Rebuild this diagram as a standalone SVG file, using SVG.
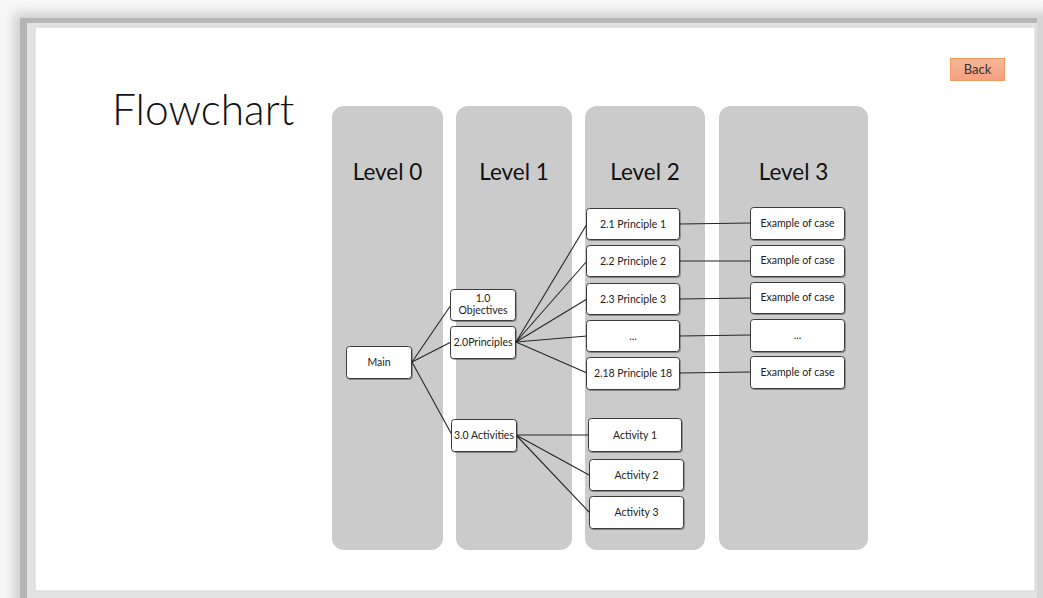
<svg xmlns="http://www.w3.org/2000/svg" width="1043" height="598" viewBox="0 0 1043 598">
  <defs>
    <filter id="soft" x="-5%" y="-5%" width="110%" height="110%">
      <feGaussianBlur stdDeviation="6"/>
    </filter>
    <filter id="boxShadow" x="-10%" y="-10%" width="130%" height="140%">
      <feDropShadow dx="0.8" dy="1" stdDeviation="0.6" flood-color="#000" flood-opacity="0.35"/>
    </filter>
    <linearGradient id="backFill" x1="0" y1="0" x2="0" y2="1">
      <stop offset="0" stop-color="#f7b79a"/>
      <stop offset="1" stop-color="#f5a07f"/>
    </linearGradient>
    <style>
      .lane { fill: #cbcbcb; }
      .lane-title { font-family: Lato, "Liberation Sans", sans-serif; font-size: 22.5px; fill: #111; text-anchor: middle; }
      .box { fill: #ffffff; stroke: #3a3a3a; stroke-width: 1; filter: url(#boxShadow); }
      .label { font-family: Lato, "Liberation Sans", sans-serif; font-size: 10.5px; fill: #222; text-anchor: middle; }
      .link { stroke: #262626; stroke-width: 1.1; fill: none; }
    </style>
  </defs>

  <!-- page frame -->
  <rect x="0" y="0" width="1043" height="598" fill="#f7f7f7"/>
  <rect x="14" y="13" width="1040" height="600" fill="#cdcdcd" filter="url(#soft)"/>
  <rect x="20" y="18" width="1030" height="590" fill="#b5b5b5"/>
  <rect x="27" y="23" width="1012" height="575" fill="#e3e3e3"/>
  <rect x="1037" y="18" width="6" height="580" fill="#d6d6d6"/>
  <rect x="35" y="27" width="1000" height="564" fill="#ffffff" stroke="#d4d4d4" stroke-width="1"/>

  <!-- title -->
  <text x="112" y="125" font-family="Lato, 'Liberation Sans', sans-serif" font-weight="300" font-size="42.5" fill="#111">Flowchart</text>

  <!-- back button -->
  <g id="back">
    <rect x="950.5" y="58.5" width="54" height="22" fill="url(#backFill)" stroke="#f39a5e" stroke-width="1"/>
    <text x="977.5" y="74" font-family="Lato, 'Liberation Sans', sans-serif" font-size="13" fill="#333" text-anchor="middle">Back</text>
  </g>

  <!-- swimlanes -->
  <g id="lane0"><rect class="lane" x="332" y="106" width="111" height="444" rx="12"/><text class="lane-title" x="387.5" y="180">Level 0</text></g>
  <g id="lane1"><rect class="lane" x="456" y="106" width="116" height="444" rx="12"/><text class="lane-title" x="514" y="180">Level 1</text></g>
  <g id="lane2"><rect class="lane" x="585" y="106" width="120" height="444" rx="12"/><text class="lane-title" x="645" y="180">Level 2</text></g>
  <g id="lane3"><rect class="lane" x="719" y="106" width="149" height="444" rx="12"/><text class="lane-title" x="793.5" y="180">Level 3</text></g>

  <!-- connectors -->
  <g id="connectors">
    <line class="link" x1="412" y1="362" x2="451" y2="305"/>
    <line class="link" x1="412" y1="362" x2="451" y2="342"/>
    <line class="link" x1="412" y1="362" x2="452" y2="435"/>

    <line class="link" x1="516" y1="342" x2="587" y2="224"/>
    <line class="link" x1="516" y1="342" x2="587" y2="261"/>
    <line class="link" x1="516" y1="342" x2="587" y2="299"/>
    <line class="link" x1="516" y1="342" x2="587" y2="336"/>
    <line class="link" x1="516" y1="342" x2="587" y2="373"/>

    <line class="link" x1="516" y1="435" x2="589" y2="435"/>
    <line class="link" x1="516" y1="435" x2="589" y2="475"/>
    <line class="link" x1="516" y1="435" x2="589" y2="512"/>

    <line class="link" x1="679" y1="224" x2="751" y2="223"/>
    <line class="link" x1="679" y1="261" x2="751" y2="261"/>
    <line class="link" x1="679" y1="299" x2="751" y2="298"/>
    <line class="link" x1="679" y1="336" x2="751" y2="335"/>
    <line class="link" x1="679" y1="373" x2="751" y2="372"/>
  </g>

  <!-- level 0 -->
  <g id="main"><rect class="box" x="346.5" y="346.5" width="65" height="32" rx="3"/><text class="label" x="379" y="366">Main</text></g>

  <!-- level 1 -->
  <g id="objectives"><rect class="box" x="450.5" y="289.5" width="65" height="31" rx="3"/><text class="label" x="483" y="302">1.0</text><text class="label" x="483" y="314">Objectives</text></g>
  <g id="principles"><rect class="box" x="450.5" y="326.5" width="65" height="32" rx="3"/><text class="label" x="483" y="346">2.0Principles</text></g>
  <g id="activities"><rect class="box" x="451.5" y="419.5" width="65" height="32" rx="3"/><text class="label" x="484" y="439">3.0 Activities</text></g>

  <!-- level 2 -->
  <g id="p1"><rect class="box" x="586.5" y="208.5" width="93" height="31" rx="3"/><text class="label" x="633" y="228">2.1 Principle 1</text></g>
  <g id="p2"><rect class="box" x="586.5" y="245.5" width="93" height="31" rx="3"/><text class="label" x="633" y="265">2.2 Principle 2</text></g>
  <g id="p3"><rect class="box" x="586.5" y="283.5" width="93" height="31" rx="3"/><text class="label" x="633" y="303">2.3 Principle 3</text></g>
  <g id="pn"><rect class="box" x="586.5" y="320.5" width="93" height="31" rx="3"/><text class="label" x="633" y="340">...</text></g>
  <g id="p18"><rect class="box" x="586.5" y="357.5" width="93" height="32" rx="3"/><text class="label" x="633" y="377">2.18 Principle 18</text></g>

  <g id="a1"><rect class="box" x="588.5" y="418.5" width="93" height="33" rx="3"/><text class="label" x="635" y="439">Activity  1</text></g>
  <g id="a2"><rect class="box" x="589.5" y="459.5" width="94" height="31" rx="3"/><text class="label" x="636.5" y="479">Activity  2</text></g>
  <g id="a3"><rect class="box" x="589.5" y="496.5" width="94" height="32" rx="3"/><text class="label" x="636.5" y="516">Activity  3</text></g>

  <!-- level 3 -->
  <g id="e1"><rect class="box" x="750.5" y="207.5" width="94" height="32" rx="3"/><text class="label" x="797.5" y="227">Example of case</text></g>
  <g id="e2"><rect class="box" x="750.5" y="245.5" width="94" height="31" rx="3"/><text class="label" x="797.5" y="264">Example of case</text></g>
  <g id="e3"><rect class="box" x="750.5" y="282.5" width="94" height="31" rx="3"/><text class="label" x="797.5" y="301">Example of case</text></g>
  <g id="en"><rect class="box" x="750.5" y="319.5" width="94" height="32" rx="3"/><text class="label" x="797.5" y="339">...</text></g>
  <g id="e18"><rect class="box" x="750.5" y="356.5" width="94" height="32" rx="3"/><text class="label" x="797.5" y="376">Example of case</text></g>
</svg>
